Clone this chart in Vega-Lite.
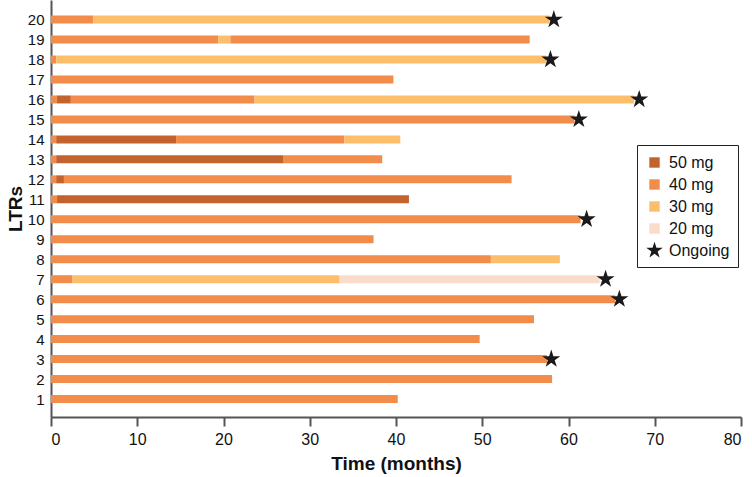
{
  "$schema": "https://vega.github.io/schema/vega-lite/v6.json",
  "width": 690,
  "height": 417,
  "autosize": "none",
  "padding": {"left": 51, "top": 0, "right": 11, "bottom": 60},
  "background": "white",
  "config": {
    "view": {"stroke": null},
    "font": "Liberation Sans",
    "axis": {"labelOverlap": false}
  },
  "datasets": {
    "segments": [
      {"ltr": 1, "dose": "40 mg", "start": 0, "end": 40.2},
      {"ltr": 2, "dose": "40 mg", "start": 0, "end": 58.1},
      {"ltr": 3, "dose": "40 mg", "start": 0, "end": 57.5},
      {"ltr": 4, "dose": "40 mg", "start": 0, "end": 49.7},
      {"ltr": 5, "dose": "40 mg", "start": 0, "end": 56.0},
      {"ltr": 6, "dose": "40 mg", "start": 0, "end": 65.4},
      {"ltr": 7, "dose": "40 mg", "start": 0, "end": 2.5},
      {"ltr": 7, "dose": "30 mg", "start": 2.5, "end": 33.4},
      {"ltr": 7, "dose": "20 mg", "start": 33.4, "end": 63.6},
      {"ltr": 8, "dose": "40 mg", "start": 0, "end": 51.0},
      {"ltr": 8, "dose": "30 mg", "start": 51.0, "end": 59.0},
      {"ltr": 9, "dose": "40 mg", "start": 0, "end": 37.4},
      {"ltr": 10, "dose": "40 mg", "start": 0, "end": 61.4},
      {"ltr": 11, "dose": "40 mg", "start": 0, "end": 0.7},
      {"ltr": 11, "dose": "50 mg", "start": 0.7, "end": 41.5},
      {"ltr": 12, "dose": "40 mg", "start": 0, "end": 0.6},
      {"ltr": 12, "dose": "50 mg", "start": 0.6, "end": 1.5},
      {"ltr": 12, "dose": "40 mg", "start": 1.5, "end": 53.4},
      {"ltr": 13, "dose": "40 mg", "start": 0, "end": 0.6},
      {"ltr": 13, "dose": "50 mg", "start": 0.6, "end": 26.9},
      {"ltr": 13, "dose": "40 mg", "start": 26.9, "end": 38.4},
      {"ltr": 14, "dose": "40 mg", "start": 0, "end": 0.6},
      {"ltr": 14, "dose": "50 mg", "start": 0.6, "end": 14.5},
      {"ltr": 14, "dose": "40 mg", "start": 14.5, "end": 34.0},
      {"ltr": 14, "dose": "30 mg", "start": 34.0, "end": 40.5},
      {"ltr": 15, "dose": "40 mg", "start": 0, "end": 60.7},
      {"ltr": 16, "dose": "40 mg", "start": 0, "end": 0.7},
      {"ltr": 16, "dose": "50 mg", "start": 0.7, "end": 2.3},
      {"ltr": 16, "dose": "40 mg", "start": 2.3, "end": 23.6},
      {"ltr": 16, "dose": "30 mg", "start": 23.6, "end": 67.6},
      {"ltr": 17, "dose": "40 mg", "start": 0, "end": 39.7},
      {"ltr": 18, "dose": "40 mg", "start": 0, "end": 0.6},
      {"ltr": 18, "dose": "30 mg", "start": 0.6, "end": 57.4},
      {"ltr": 19, "dose": "40 mg", "start": 0, "end": 19.4},
      {"ltr": 19, "dose": "30 mg", "start": 19.4, "end": 20.8},
      {"ltr": 19, "dose": "40 mg", "start": 20.8, "end": 55.5},
      {"ltr": 20, "dose": "40 mg", "start": 0, "end": 4.9},
      {"ltr": 20, "dose": "30 mg", "start": 4.9, "end": 57.8}
    ],
    "ongoing": [
      {"ltr": 3, "status": "Ongoing", "t": 58.0},
      {"ltr": 6, "status": "Ongoing", "t": 65.9},
      {"ltr": 7, "status": "Ongoing", "t": 64.3},
      {"ltr": 10, "status": "Ongoing", "t": 62.1},
      {"ltr": 15, "status": "Ongoing", "t": 61.2},
      {"ltr": 16, "status": "Ongoing", "t": 68.2},
      {"ltr": 18, "status": "Ongoing", "t": 57.9},
      {"ltr": 20, "status": "Ongoing", "t": 58.3}
    ]
  },
  "layer": [
    {
      "data": {"name": "segments"},
      "mark": {"type": "bar", "orient": "horizontal", "size": 8},
      "encoding": {
        "y": {
          "field": "ltr", "type": "quantitative",
          "scale": {"domain": [0.35, 20.73], "nice": false, "zero": false},
          "axis": {
            "title": "LTRs", "values": [1,2,3,4,5,6,7,8,9,10,11,12,13,14,15,16,17,18,19,20],
            "tickCount": 40, "format": "d",
            "grid": false, "ticks": false, "labelPadding": 7, "labelOverlap": false,
            "labelFontSize": 15, "labelColor": "#111", "labelFont": "Liberation Sans",
            "titleFontSize": 19, "titleFontWeight": "bold", "titleColor": "#111",
            "titlePadding": 2, "titleFont": "Liberation Sans",
            "domainColor": "#555", "domainWidth": 2
          }
        },
        "x": {
          "field": "start", "type": "quantitative",
          "scale": {"domain": [0, 80], "nice": false},
          "axis": {
            "title": "Time (months)", "values": [0,10,20,30,40,50,60,70,80],
            "tickCount": 20, "format": "d",
            "grid": false, "tickSize": 9, "tickWidth": 2, "tickColor": "#555",
            "domainColor": "#555", "domainWidth": 2, "labelOverlap": false,
            "labelFontSize": 16, "labelColor": "#111", "labelFont": "Liberation Sans",
            "labelPadding": 5,
            "titleFontSize": 19, "titleFontWeight": "bold", "titleColor": "#111",
            "titleFont": "Liberation Sans", "titlePadding": 7
          }
        },
        "x2": {"field": "end"},
        "color": {
          "field": "dose", "type": "nominal",
          "scale": {
            "domain": ["50 mg", "40 mg", "30 mg", "20 mg", "Ongoing"],
            "range": ["#C4622D", "#F28C4B", "#FDBE6C", "#F9DCC9", "#1a1a1a"]
          },
          "legend": {
            "title": null, "orient": "none", "legendX": 586, "legendY": 145,
            "strokeColor": "#222", "padding": 8,
            "labelFontSize": 16, "labelColor": "#111", "labelFont": "Liberation Sans",
            "symbolSize": 300, "rowPadding": 4, "labelOffset": 5
          }
        }
      }
    },
    {
      "data": {"name": "ongoing"},
      "mark": {"type": "point", "filled": true, "size": 360, "opacity": 1},
      "encoding": {
        "y": {"field": "ltr", "type": "quantitative"},
        "x": {"field": "t", "type": "quantitative"},
        "color": {"field": "status", "type": "nominal"},
        "shape": {
          "field": "status", "type": "nominal",
          "scale": {
            "domain": ["50 mg", "40 mg", "30 mg", "20 mg", "Ongoing"],
            "range": [
              "M-0.6,-0.6H0.6V0.6H-0.6Z",
              "M-0.6,-0.6H0.6V0.6H-0.6Z",
              "M-0.6,-0.6H0.6V0.6H-0.6Z",
              "M-0.6,-0.6H0.6V0.6H-0.6Z",
              "M0,-1L0.2245,-0.309L0.951,-0.309L0.363,0.118L0.588,0.809L0,0.382L-0.588,0.809L-0.363,0.118L-0.951,-0.309L-0.2245,-0.309Z"
            ]
          },
          "legend": {
            "title": null, "orient": "none", "legendX": 586, "legendY": 145,
            "strokeColor": "#222", "padding": 8,
            "labelFontSize": 16, "labelColor": "#111", "labelFont": "Liberation Sans",
            "symbolSize": 300, "rowPadding": 4, "labelOffset": 5
          }
        }
      }
    }
  ]
}
